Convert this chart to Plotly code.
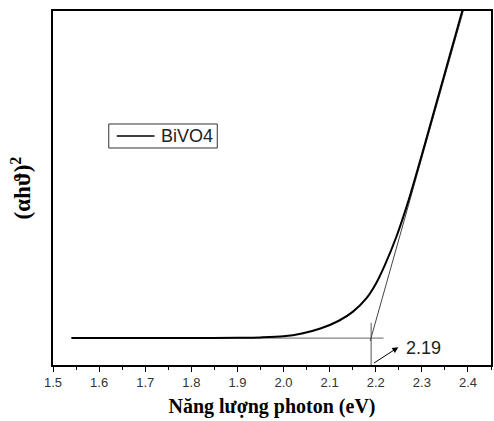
import plotly.graph_objects as go

# Absorption curve (Tauc plot)
energy = [1.54, 1.60, 1.70, 1.80, 1.90, 1.95, 2.00, 2.04, 2.08, 2.12, 2.15, 2.18,
          2.20, 2.22, 2.245, 2.27, 2.30, 2.33, 2.36, 2.39, 2.40]
absorb = [7.6, 7.6, 7.6, 7.6, 7.7, 7.8, 8.1, 8.9, 10.3, 12.5, 15.0, 18.9,
          22.9, 28.3, 36.3, 46.0, 59.4, 73.3, 87.2, 101.1, 105.7]
series_name = "BiVO4"

# Tangent / construction lines
tangent_x = [2.188, 2.392]
tangent_y = [6.8, 101.0]
base_x = [1.54, 2.217]
base_y = [7.6, 7.6]
vert_x = [2.19, 2.19]
vert_y = [0.0, 11.9]

band_gap = 2.19
xticks = [1.5, 1.6, 1.7, 1.8, 1.9, 2.0, 2.1, 2.2, 2.3, 2.4]

fig = go.Figure()
fig.add_trace(go.Scatter(x=base_x, y=base_y, mode="lines",
                         line=dict(color="#666666", width=1), showlegend=False, hoverinfo="skip"))
fig.add_trace(go.Scatter(x=vert_x, y=vert_y, mode="lines",
                         line=dict(color="#555555", width=1), showlegend=False, hoverinfo="skip"))
fig.add_trace(go.Scatter(x=tangent_x, y=tangent_y, mode="lines",
                         line=dict(color="#444444", width=1), showlegend=False, hoverinfo="skip"))
fig.add_trace(go.Scatter(x=energy, y=absorb, mode="lines", name=series_name, showlegend=False,
                         line=dict(color="black", width=2, shape="spline", smoothing=0.8)))

# arrow pointing to band gap
fig.add_annotation(x=2.249, y=5.0, ax=2.193, ay=0.3, xref="x", yref="y",
                   axref="x", ayref="y", text="", showarrow=True,
                   arrowhead=2, arrowsize=1.2, arrowwidth=1, arrowcolor="black")
fig.add_annotation(x=2.262, y=4.9, xref="x", yref="y", text=f"{band_gap:.2f}",
                   showarrow=False, xanchor="left", yanchor="middle",
                   font=dict(family="Arial, Liberation Sans", size=18, color="#222222"))

# legend box (drawn manually to match the compact original)
fig.add_shape(type="rect", xref="paper", yref="paper", x0=0.1273, x1=0.375, y0=0.613, y1=0.6808,
              line=dict(color="#333333", width=1), fillcolor="white", layer="above")
fig.add_shape(type="line", xref="paper", yref="paper", x0=0.1455, x1=0.2318, y0=0.647, y1=0.647,
              line=dict(color="black", width=1.5), layer="above")
fig.add_annotation(x=0.241, y=0.647, xref="paper", yref="paper", text=series_name,
                   showarrow=False, xanchor="left", yanchor="middle",
                   font=dict(family="Arial, Liberation Sans", size=18, color="#222222"))

fig.update_layout(
    width=494, height=421,
    margin=dict(l=53, r=1, t=11, b=56),
    paper_bgcolor="white", plot_bgcolor="white",
    showlegend=False,
    xaxis=dict(range=[1.5, 2.45], tickvals=xticks, ticktext=[f"{v:.1f}" for v in xticks],
               ticks="outside", ticklen=5, tickwidth=1, tickcolor="black",
               minor=dict(dtick=0.05, tick0=1.5, ticks="outside", ticklen=3, tickcolor="black"),
               showline=True, linecolor="black", linewidth=1.5, mirror=True,
               showgrid=False, zeroline=False,
               tickfont=dict(family="Arial, Liberation Sans", size=13, color="#333333"),
               title=dict(text="<b>Năng lượng photon (eV)</b>", standoff=10,
                          font=dict(family="Liberation Serif, Times New Roman", size=20, color="black"))),
    yaxis=dict(range=[0, 100], showticklabels=False, ticks="",
               showline=True, linecolor="black", linewidth=1.5, mirror=True,
               showgrid=False, zeroline=False,
               title=dict(text="<b>(αhϑ)<sup>2</sup></b>", standoff=14,
                          font=dict(family="Liberation Serif, Times New Roman", size=23, color="black"))),
)

fig.write_html("out.html")
